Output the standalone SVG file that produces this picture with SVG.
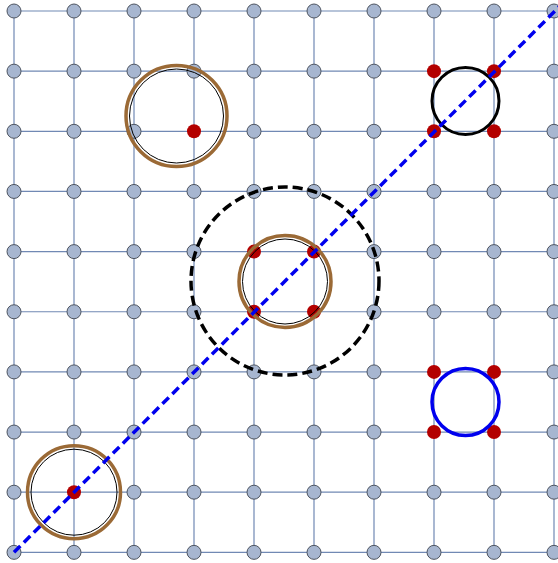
<svg xmlns="http://www.w3.org/2000/svg" width="558" height="563" viewBox="0 0 558 563">
<style>
.grid{stroke:#7189b4;stroke-width:1.2;fill:none}
.n{fill:#a7b6d0;stroke:#4d5460;stroke-width:1}
.r{fill:#b30000;stroke:none}
.br{fill:none;stroke:#9b6a36;stroke-width:3.5}
.thin{fill:none;stroke:#000;stroke-width:1}
</style>
<rect width="558" height="563" fill="#fff"/>
<g id="connectors" class="grid">
<path d="M14 11H554M14 71.15H554M14 131.3H554M14 191.45H554M14 251.6H554M14 311.75H554M14 371.9H554M14 432.05H554M14 492.2H554M14 552.35H554"/>
<path d="M14 11V552.35M74 11V552.35M134 11V552.35M194 11V552.35M254 11V552.35M314 11V552.35M374 11V552.35M434 11V552.35M494 11V552.35M554 11V552.35"/>
</g>
<g id="nodes">
<g id="n0-0"><circle class="n" cx="14" cy="11" r="7"/></g>
<g id="n1-0"><circle class="n" cx="74" cy="11" r="7"/></g>
<g id="n2-0"><circle class="n" cx="134" cy="11" r="7"/></g>
<g id="n3-0"><circle class="n" cx="194" cy="11" r="7"/></g>
<g id="n4-0"><circle class="n" cx="254" cy="11" r="7"/></g>
<g id="n5-0"><circle class="n" cx="314" cy="11" r="7"/></g>
<g id="n6-0"><circle class="n" cx="374" cy="11" r="7"/></g>
<g id="n7-0"><circle class="n" cx="434" cy="11" r="7"/></g>
<g id="n8-0"><circle class="n" cx="494" cy="11" r="7"/></g>
<g id="n9-0"><circle class="n" cx="554" cy="11" r="7"/></g>
<g id="n0-1"><circle class="n" cx="14" cy="71.15" r="7"/></g>
<g id="n1-1"><circle class="n" cx="74" cy="71.15" r="7"/></g>
<g id="n2-1"><circle class="n" cx="134" cy="71.15" r="7"/></g>
<g id="n3-1"><circle class="n" cx="194" cy="71.15" r="7"/></g>
<g id="n4-1"><circle class="n" cx="254" cy="71.15" r="7"/></g>
<g id="n5-1"><circle class="n" cx="314" cy="71.15" r="7"/></g>
<g id="n6-1"><circle class="n" cx="374" cy="71.15" r="7"/></g>
<g id="n7-1"><circle class="r" cx="434" cy="71.15" r="7"/></g>
<g id="n8-1"><circle class="r" cx="494" cy="71.15" r="7"/></g>
<g id="n9-1"><circle class="n" cx="554" cy="71.15" r="7"/></g>
<g id="n0-2"><circle class="n" cx="14" cy="131.3" r="7"/></g>
<g id="n1-2"><circle class="n" cx="74" cy="131.3" r="7"/></g>
<g id="n2-2"><circle class="n" cx="134" cy="131.3" r="7"/></g>
<g id="n3-2"><circle class="r" cx="194" cy="131.3" r="7"/></g>
<g id="n4-2"><circle class="n" cx="254" cy="131.3" r="7"/></g>
<g id="n5-2"><circle class="n" cx="314" cy="131.3" r="7"/></g>
<g id="n6-2"><circle class="n" cx="374" cy="131.3" r="7"/></g>
<g id="n7-2"><circle class="r" cx="434" cy="131.3" r="7"/></g>
<g id="n8-2"><circle class="r" cx="494" cy="131.3" r="7"/></g>
<g id="n9-2"><circle class="n" cx="554" cy="131.3" r="7"/></g>
<g id="n0-3"><circle class="n" cx="14" cy="191.45" r="7"/></g>
<g id="n1-3"><circle class="n" cx="74" cy="191.45" r="7"/></g>
<g id="n2-3"><circle class="n" cx="134" cy="191.45" r="7"/></g>
<g id="n3-3"><circle class="n" cx="194" cy="191.45" r="7"/></g>
<g id="n4-3"><circle class="n" cx="254" cy="191.45" r="7"/></g>
<g id="n5-3"><circle class="n" cx="314" cy="191.45" r="7"/></g>
<g id="n6-3"><circle class="n" cx="374" cy="191.45" r="7"/></g>
<g id="n7-3"><circle class="n" cx="434" cy="191.45" r="7"/></g>
<g id="n8-3"><circle class="n" cx="494" cy="191.45" r="7"/></g>
<g id="n9-3"><circle class="n" cx="554" cy="191.45" r="7"/></g>
<g id="n0-4"><circle class="n" cx="14" cy="251.6" r="7"/></g>
<g id="n1-4"><circle class="n" cx="74" cy="251.6" r="7"/></g>
<g id="n2-4"><circle class="n" cx="134" cy="251.6" r="7"/></g>
<g id="n3-4"><circle class="n" cx="194" cy="251.6" r="7"/></g>
<g id="n4-4"><circle class="r" cx="254" cy="251.6" r="7"/></g>
<g id="n5-4"><circle class="r" cx="314" cy="251.6" r="7"/></g>
<g id="n6-4"><circle class="n" cx="374" cy="251.6" r="7"/></g>
<g id="n7-4"><circle class="n" cx="434" cy="251.6" r="7"/></g>
<g id="n8-4"><circle class="n" cx="494" cy="251.6" r="7"/></g>
<g id="n9-4"><circle class="n" cx="554" cy="251.6" r="7"/></g>
<g id="n0-5"><circle class="n" cx="14" cy="311.75" r="7"/></g>
<g id="n1-5"><circle class="n" cx="74" cy="311.75" r="7"/></g>
<g id="n2-5"><circle class="n" cx="134" cy="311.75" r="7"/></g>
<g id="n3-5"><circle class="n" cx="194" cy="311.75" r="7"/></g>
<g id="n4-5"><circle class="r" cx="254" cy="311.75" r="7"/></g>
<g id="n5-5"><circle class="r" cx="314" cy="311.75" r="7"/></g>
<g id="n6-5"><circle class="n" cx="374" cy="311.75" r="7"/></g>
<g id="n7-5"><circle class="n" cx="434" cy="311.75" r="7"/></g>
<g id="n8-5"><circle class="n" cx="494" cy="311.75" r="7"/></g>
<g id="n9-5"><circle class="n" cx="554" cy="311.75" r="7"/></g>
<g id="n0-6"><circle class="n" cx="14" cy="371.9" r="7"/></g>
<g id="n1-6"><circle class="n" cx="74" cy="371.9" r="7"/></g>
<g id="n2-6"><circle class="n" cx="134" cy="371.9" r="7"/></g>
<g id="n3-6"><circle class="n" cx="194" cy="371.9" r="7"/></g>
<g id="n4-6"><circle class="n" cx="254" cy="371.9" r="7"/></g>
<g id="n5-6"><circle class="n" cx="314" cy="371.9" r="7"/></g>
<g id="n6-6"><circle class="n" cx="374" cy="371.9" r="7"/></g>
<g id="n7-6"><circle class="r" cx="434" cy="371.9" r="7"/></g>
<g id="n8-6"><circle class="r" cx="494" cy="371.9" r="7"/></g>
<g id="n9-6"><circle class="n" cx="554" cy="371.9" r="7"/></g>
<g id="n0-7"><circle class="n" cx="14" cy="432.05" r="7"/></g>
<g id="n1-7"><circle class="n" cx="74" cy="432.05" r="7"/></g>
<g id="n2-7"><circle class="n" cx="134" cy="432.05" r="7"/></g>
<g id="n3-7"><circle class="n" cx="194" cy="432.05" r="7"/></g>
<g id="n4-7"><circle class="n" cx="254" cy="432.05" r="7"/></g>
<g id="n5-7"><circle class="n" cx="314" cy="432.05" r="7"/></g>
<g id="n6-7"><circle class="n" cx="374" cy="432.05" r="7"/></g>
<g id="n7-7"><circle class="r" cx="434" cy="432.05" r="7"/></g>
<g id="n8-7"><circle class="r" cx="494" cy="432.05" r="7"/></g>
<g id="n9-7"><circle class="n" cx="554" cy="432.05" r="7"/></g>
<g id="n0-8"><circle class="n" cx="14" cy="492.2" r="7"/></g>
<g id="n1-8"><circle class="r" cx="74" cy="492.2" r="7"/></g>
<g id="n2-8"><circle class="n" cx="134" cy="492.2" r="7"/></g>
<g id="n3-8"><circle class="n" cx="194" cy="492.2" r="7"/></g>
<g id="n4-8"><circle class="n" cx="254" cy="492.2" r="7"/></g>
<g id="n5-8"><circle class="n" cx="314" cy="492.2" r="7"/></g>
<g id="n6-8"><circle class="n" cx="374" cy="492.2" r="7"/></g>
<g id="n7-8"><circle class="n" cx="434" cy="492.2" r="7"/></g>
<g id="n8-8"><circle class="n" cx="494" cy="492.2" r="7"/></g>
<g id="n9-8"><circle class="n" cx="554" cy="492.2" r="7"/></g>
<g id="n0-9"><circle class="n" cx="14" cy="552.35" r="7"/></g>
<g id="n1-9"><circle class="n" cx="74" cy="552.35" r="7"/></g>
<g id="n2-9"><circle class="n" cx="134" cy="552.35" r="7"/></g>
<g id="n3-9"><circle class="n" cx="194" cy="552.35" r="7"/></g>
<g id="n4-9"><circle class="n" cx="254" cy="552.35" r="7"/></g>
<g id="n5-9"><circle class="n" cx="314" cy="552.35" r="7"/></g>
<g id="n6-9"><circle class="n" cx="374" cy="552.35" r="7"/></g>
<g id="n7-9"><circle class="n" cx="434" cy="552.35" r="7"/></g>
<g id="n8-9"><circle class="n" cx="494" cy="552.35" r="7"/></g>
<g id="n9-9"><circle class="n" cx="554" cy="552.35" r="7"/></g>
</g>
<g id="circles">
<g id="c-topleft"><circle class="br" cx="176.5" cy="116" r="50.5"/><circle class="thin" cx="176.5" cy="116" r="47"/></g>
<g id="c-topright"><circle cx="465.5" cy="101" r="33.5" fill="none" stroke="#000" stroke-width="3"/></g>
<g id="c-center-dashed"><circle cx="285" cy="281" r="94" fill="none" stroke="#000" stroke-width="3.5" stroke-dasharray="10,5"/></g>
<g id="c-center"><circle class="br" cx="285" cy="281.5" r="46"/><circle class="thin" cx="285" cy="281.5" r="42.5"/></g>
<g id="c-blue"><circle cx="465.5" cy="402" r="33.5" fill="none" stroke="#0000ee" stroke-width="3.5"/></g>
<g id="c-bottomleft"><circle class="br" cx="74" cy="492.2" r="46.5"/><circle class="thin" cx="74" cy="492.2" r="43"/></g>
</g>
<g id="diagonal"><line x1="14" y1="552.35" x2="560" y2="6" stroke="#0000ee" stroke-width="3.5" stroke-dasharray="9,5"/></g>
</svg>
